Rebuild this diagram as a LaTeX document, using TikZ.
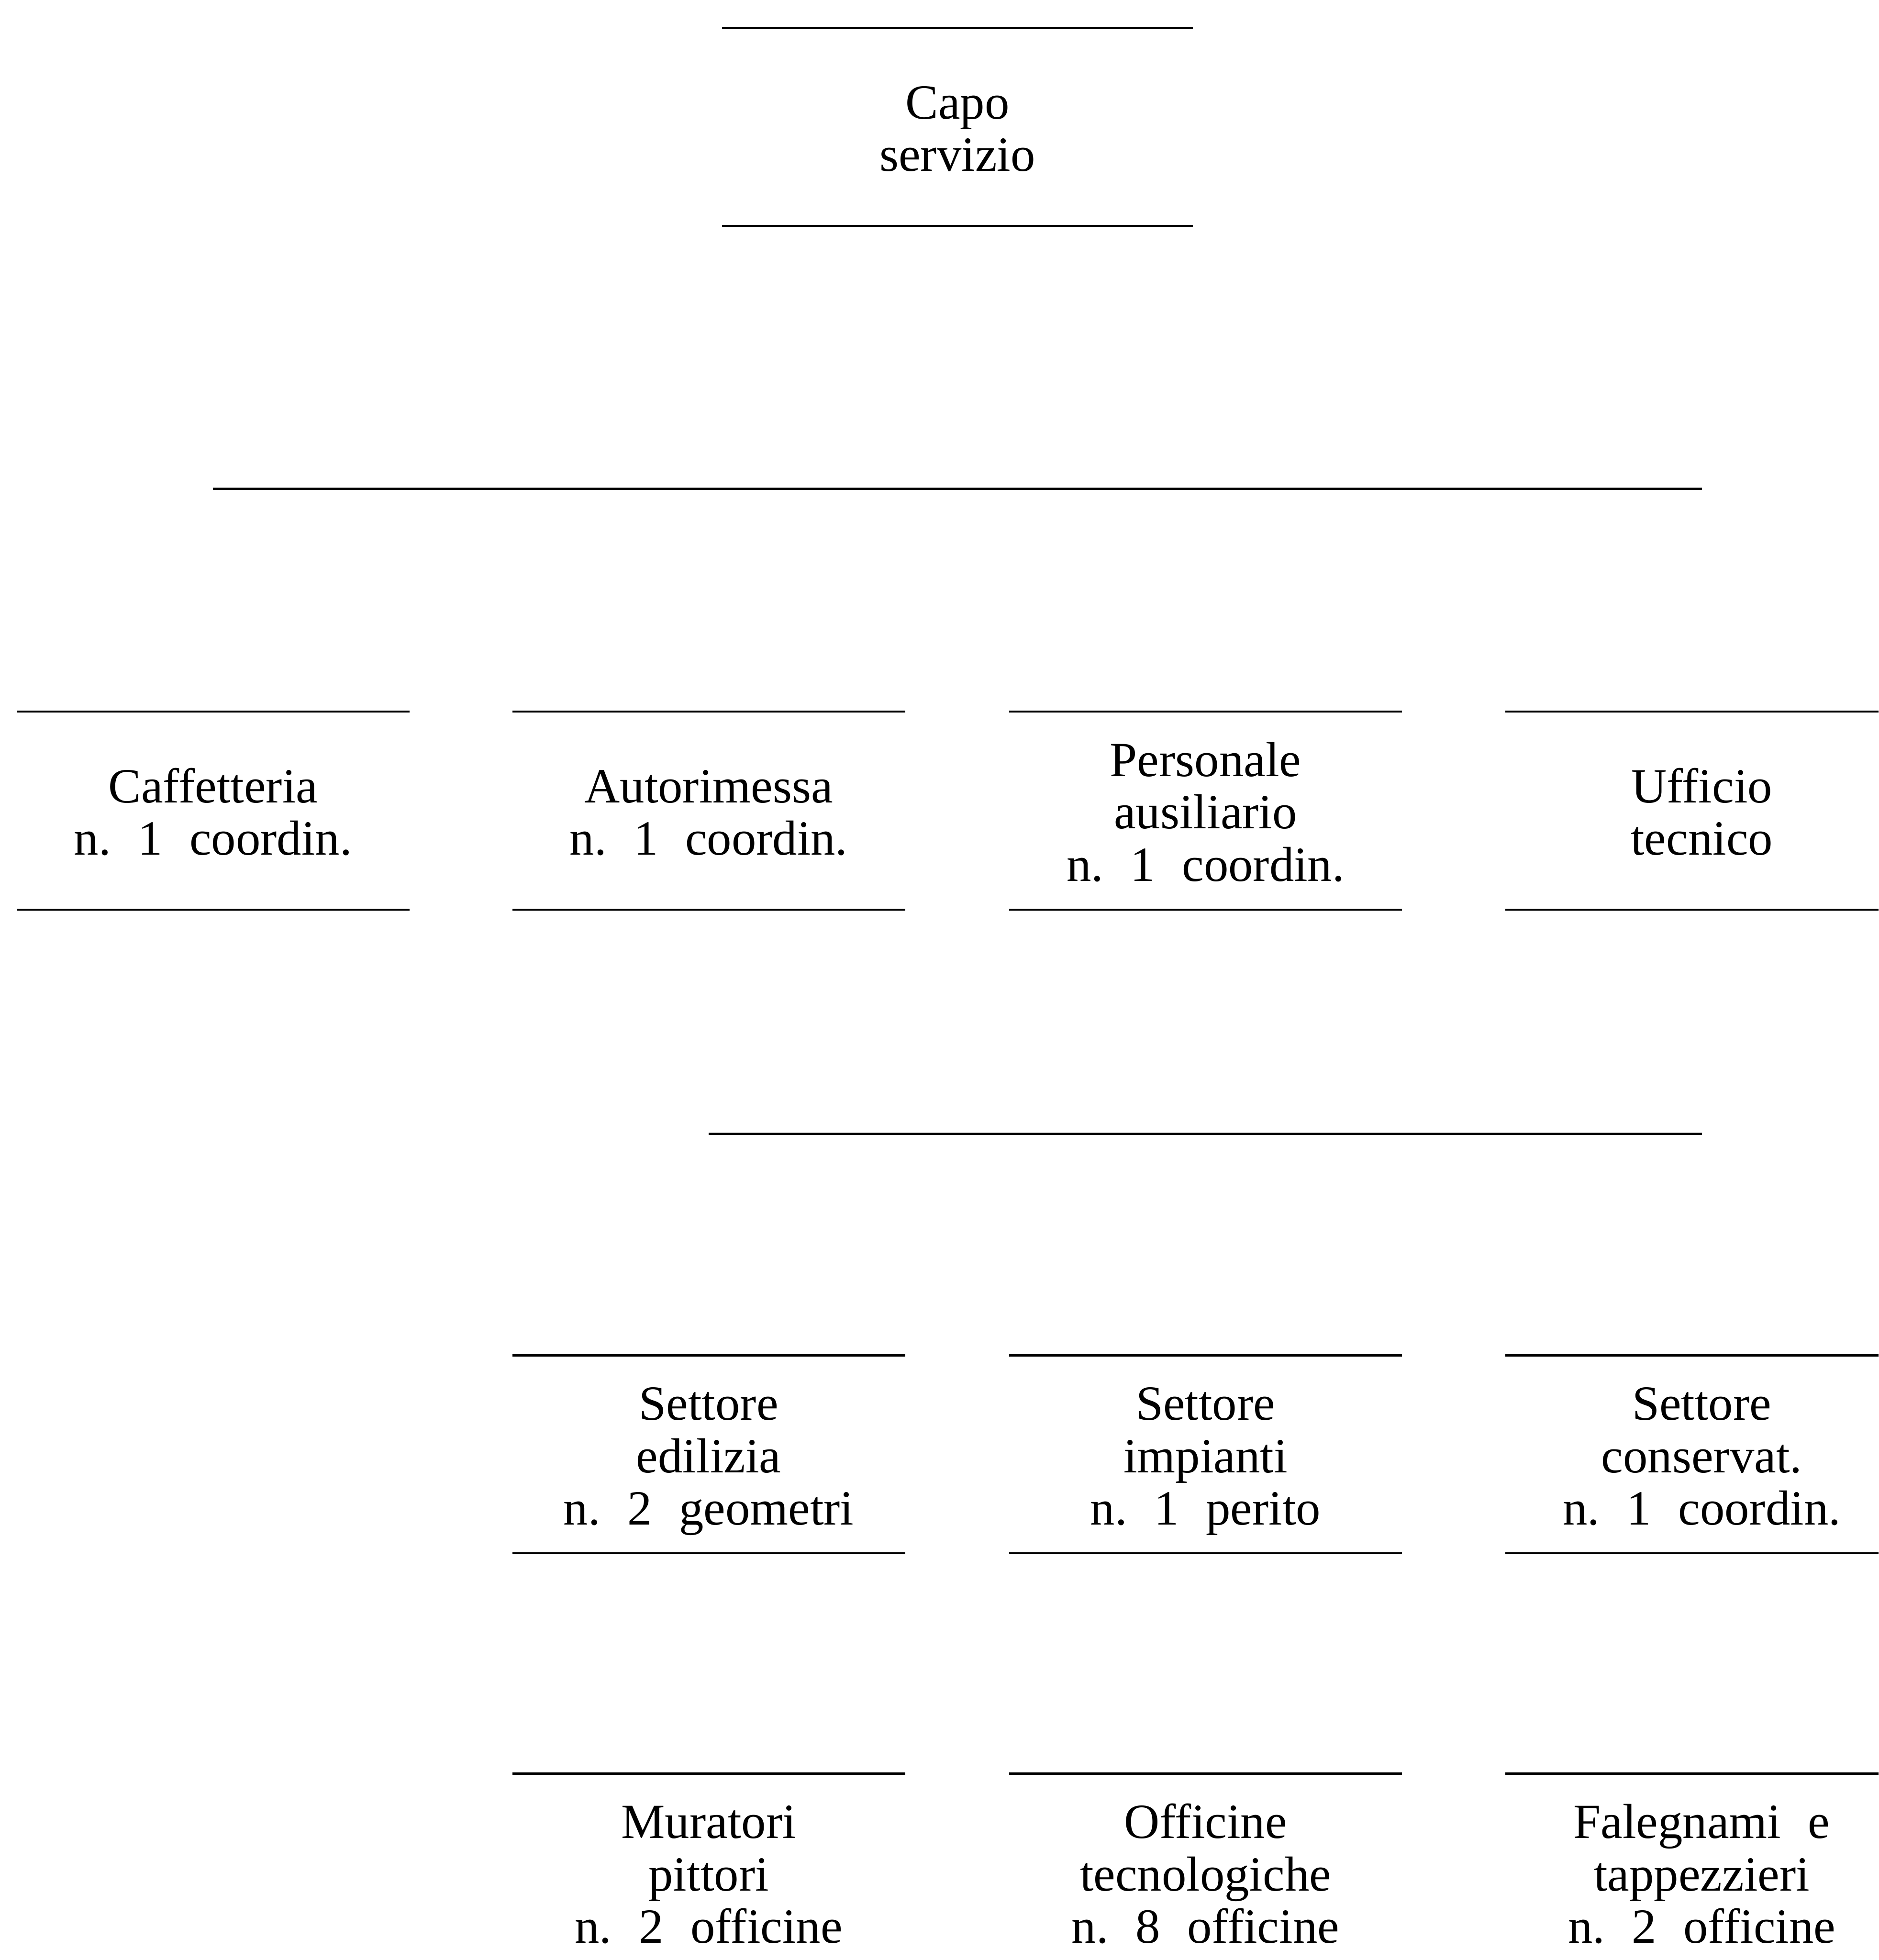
\documentclass[tikz,border=0pt]{standalone}
\usepackage{fontspec}
\setmainfont{Liberation Serif}
% wider gap between the words of the staffing lines
\newcommand\wsp{\hspace{0.55em}}
% fixed top and bottom extents, so every label sits on the same baselines
\newcommand\topstrut{\rule{0pt}{11.7pt}}
\newcommand\botstrut{\rule[-3pt]{0pt}{3pt}}
\begin{document}
\begin{tikzpicture}[x=0.3pt,y=-0.3pt,
  rule/.style={line width=0.5pt},
  label/.style={inner sep=0pt,align=center,
    font=\fontsize{11.8}{12.6}\selectfont,
    execute at end node=\botstrut},
  unit/.style={label,minimum width=93.9pt,minimum height=47.1pt,
    append after command={
      (\tikzlastnode.north west) edge[rule] (\tikzlastnode.north east)
      (\tikzlastnode.south west) edge[rule] (\tikzlastnode.south east)}},
  wideunit/.style={unit,minimum width=112.5pt},
  openunit/.style={label,minimum width=93.9pt,minimum height=47.1pt,
    append after command={
      (\tikzlastnode.north west) edge[rule] (\tikzlastnode.north east)}}]
\useasboundingbox (0,0) rectangle (1503,1568);
\clip (0,0) rectangle (1503,1568);

% head of the service
\node[wideunit] (capo) at (766,101.5) {\topstrut Capo\\servizio};

% first level
\node[unit] (caff) at (170.5,648.5) {\topstrut Caffetteria\\n.\wsp 1\wsp coordin.};
\node[unit] (auto) at (567,648.5) {\topstrut Autorimessa\\n.\wsp 1\wsp coordin.};
\node[unit] (pers) at (964.5,648.5) {\topstrut Personale\\ausiliario\\n.\wsp 1\wsp coordin.};
\node[unit] (uff) at (1361.5,648.5) {\topstrut Ufficio\\tecnico};

% sectors of the technical office
\node[unit] (edil) at (567,1163.5) {\topstrut Settore\\edilizia\\n.\wsp 2\wsp geometri};
\node[unit] (impi) at (964.5,1163.5) {\topstrut Settore\\impianti\\n.\wsp 1\wsp perito};
\node[unit] (cons) at (1361.5,1163.5) {\topstrut Settore\\conservat.\\n.\wsp 1\wsp coordin.};

% workshops
\node[openunit] (mur) at (567,1498) {\topstrut Muratori\\pittori\\n.\wsp 2\wsp officine};
\node[openunit] (off) at (964.5,1498) {\topstrut Officine\\tecnologiche\\n.\wsp 8\wsp officine};
\node[openunit] (fal) at (1361.5,1498) {\topstrut Falegnami\wsp e\\tappezzieri\\n.\wsp 2\wsp officine};

% distribution lines
\coordinate (busA) at (0,391);
\coordinate (busB) at (0,907);
\draw[rule] (caff |- busA) -- (uff |- busA);
\draw[rule] (edil |- busB) -- (cons |- busB);
\end{tikzpicture}
\end{document}
